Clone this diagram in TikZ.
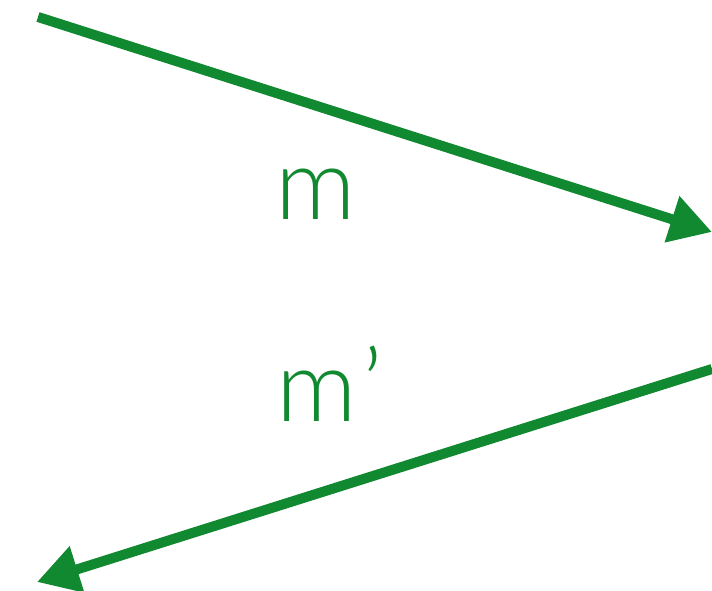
\documentclass[tikz,border=0pt]{standalone}
\usepackage{fontspec}
\setmainfont{Lato}[UprightFont=* Light]
\usetikzlibrary{arrows.meta}
\definecolor{arrgreen}{RGB}{17,137,48}
\tikzset{
  arr/.style={draw=arrgreen, line width=10pt, -{Triangle[length=42pt,width=46pt]}},
  lbl/.style={text=arrgreen, font=\fontsize{100}{104}\selectfont, inner sep=0pt, anchor=base west}
}
\begin{document}
\begin{tikzpicture}[x=1pt,y=-1pt]
\useasboundingbox (0,0) rectangle (712,591);
\coordinate (a1) at (38,17);
\coordinate (b1) at (712,232);
\coordinate (a2) at (712,369);
\coordinate (b2) at (37,582);
\draw[arr] (a1) -- (b1);
\draw[arr] (a2) -- (b2);
\node[lbl] (m) at (275,219) {m};
\node[lbl] (mp) at (276,421) {m\kern6pt’};
\end{tikzpicture}
\end{document}
